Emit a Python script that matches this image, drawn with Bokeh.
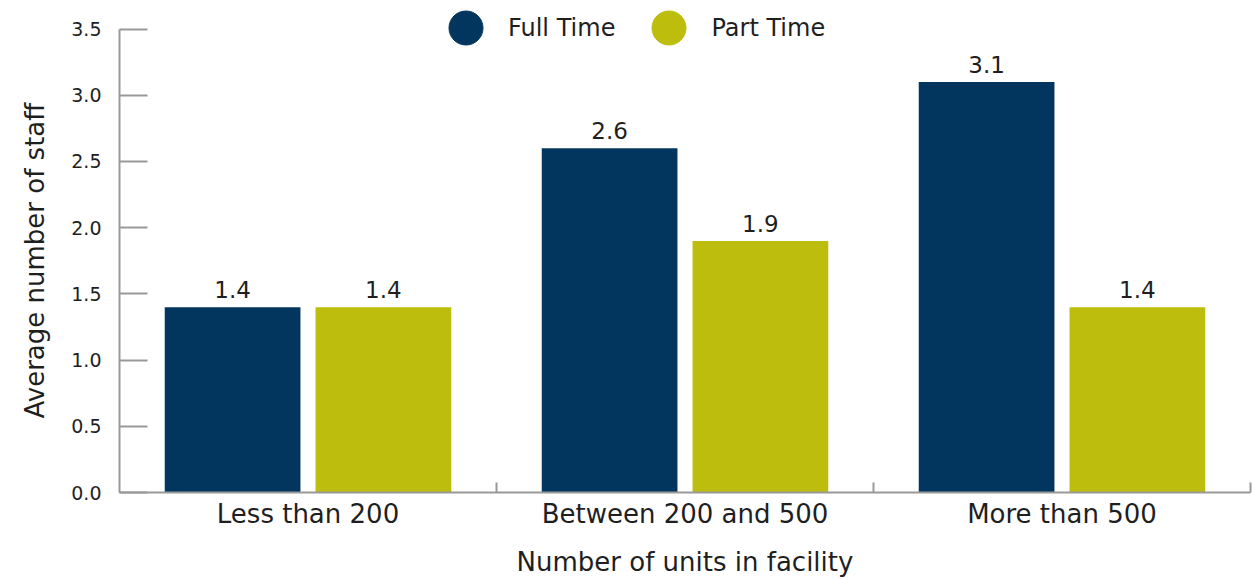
from bokeh.plotting import figure
from bokeh.models import (ColumnDataSource, Range1d, FixedTicker, Legend, LegendItem,
                          LabelSet, NumeralTickFormatter, Title)
from bokeh.core.properties import value
from bokeh.embed import file_html
from bokeh.resources import INLINE

# Average staff counts per facility size
categories = ["Less than 200", "Between 200 and 500", "More than 500"]
full_time = [1.4, 2.6, 3.1]
part_time = [1.4, 1.9, 1.4]
series_names = ["Full Time", "Part Time"]
y_ticks = [0.0, 0.5, 1.0, 1.5, 2.0, 2.5, 3.0, 3.5]
y_title = "Average number of staff"
x_title = "Number of units in facility"

FONT = "DejaVu Sans"
NAVY = "#03365E"
OLIVE = "#BCBD0C"
AXIS_GREY = "#999999"
TEXT = "#1f1f1f"

n = len(categories)
centers = [i + 0.5 for i in range(n)]
offset = 0.2
bar_w = 0.36

src_ft = ColumnDataSource(dict(x=[c - offset for c in centers], top=full_time,
                               label=[f"{v:.1f}" for v in full_time]))
src_pt = ColumnDataSource(dict(x=[c + offset for c in centers], top=part_time,
                               label=[f"{v:.1f}" for v in part_time]))

# headroom above 3.5 leaves space for the legend inside the frame
p = figure(width=1252, height=579, output_backend="svg", toolbar_location=None,
           x_range=Range1d(0, n), y_range=Range1d(0, 3.716),
           min_border_left=119, min_border_right=2, min_border_top=0,
           min_border_bottom=87)
p.outline_line_color = None
p.xgrid.visible = False
p.ygrid.visible = False

r_ft = p.vbar(x="x", top="top", width=bar_w, source=src_ft, color=NAVY, line_color=None)
r_pt = p.vbar(x="x", top="top", width=bar_w, source=src_pt, color=OLIVE, line_color=None)

for src in (src_ft, src_pt):
    p.add_layout(LabelSet(x="x", y="top", text="label", source=src, text_align="center",
                          text_baseline="alphabetic", y_offset=9,
                          text_font=value(FONT), text_font_size="23px",
                          text_color=TEXT))

# x axis: category names at group centres, short upward ticks at group boundaries
xa = p.xaxis[0]
xa.ticker = FixedTicker(ticks=centers, minor_ticks=list(range(1, n + 1)))
xa.major_label_overrides = {c: name for c, name in zip(centers, categories)}
xa.major_tick_in = 0
xa.major_tick_out = 0
xa.minor_tick_in = 10
xa.minor_tick_out = 0
xa.minor_tick_line_color = AXIS_GREY
xa.minor_tick_line_width = 2
xa.axis_line_color = AXIS_GREY
xa.axis_line_width = 2
xa.major_label_text_font = FONT
xa.major_label_text_font_size = "26px"
xa.major_label_text_color = TEXT
xa.major_label_standoff = 6
xa.axis_label = x_title
xa.axis_label_text_font = FONT
xa.axis_label_text_font_size = "26px"
xa.axis_label_text_font_style = "normal"
xa.axis_label_text_color = TEXT
xa.axis_label_standoff = 15

ya = p.yaxis[0]
ya.ticker = FixedTicker(ticks=y_ticks)
ya.bounds = (0, 3.5)
ya.formatter = NumeralTickFormatter(format="0.0")
ya.major_tick_in = 28
ya.major_tick_out = 0
ya.minor_tick_line_color = None
ya.major_tick_line_color = AXIS_GREY
ya.major_tick_line_width = 2
ya.axis_line_color = AXIS_GREY
ya.axis_line_width = 2
ya.major_label_text_font = FONT
ya.major_label_text_font_size = "19px"
ya.major_label_text_color = TEXT
ya.major_label_standoff = 18

# y title placed along the 0-3.5 span rather than the whole frame
p.add_layout(Title(text=y_title, align="left", offset=74, standoff=34,
                   vertical_align="top",
                   text_font=FONT, text_font_size="26px", text_font_style="normal",
                   text_color=TEXT), "left")

r_dot_ft = p.scatter(x=[centers[0]], y=[-10], marker="circle", color=NAVY, size=34)
r_dot_pt = p.scatter(x=[centers[0]], y=[-10], marker="circle", color=OLIVE, size=34)

legend = Legend(items=[LegendItem(label=series_names[0], renderers=[r_dot_ft]),
                       LegendItem(label=series_names[1], renderers=[r_dot_pt])],
                orientation="horizontal", location=(304, 422),
                glyph_width=85, glyph_height=85, label_standoff=0, spacing=11,
                label_text_font=FONT, label_text_font_size="24px",
                label_text_color=TEXT, border_line_color=None,
                background_fill_alpha=0, padding=0, margin=0)
p.add_layout(legend, "center")

open("out.html", "w").write(file_html(p, INLINE))
